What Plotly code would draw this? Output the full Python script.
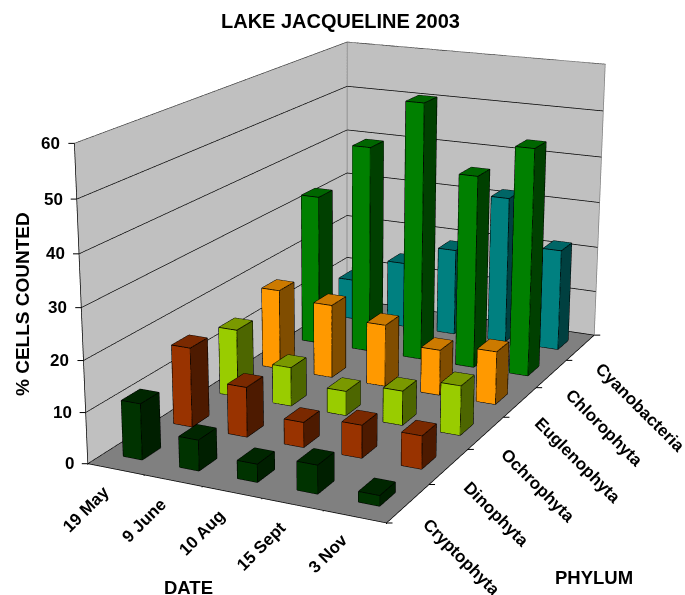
import plotly.graph_objects as go

# Percentage of cells counted, by phylum and sampling date
dates = ["19 May", "9 June", "10 Aug", "15 Sept", "3 Nov"]
phyla = ["Cryptophyta", "Dinophyta", "Ochrophyta", "Euglenophyta", "Chlorophyta", "Cyanobacteria"]
cryptophyta = [11, 6, 3.5, 5.5, 2]
dinophyta = [16, 10, 5, 6.5, 6.5]
ochrophyta = [14, 8, 5, 7, 10]
euglenophyta = [17, 15.5, 13, 9.5, 11]
chlorophyta = [32.5, 44.5, 55, 41, 48]
cyanobacteria = [9, 14.5, 19, 32, 22]
percent_ticks = [0, 10, 20, 30, 40, 50, 60]

series = [cryptophyta, dinophyta, ochrophyta, euglenophyta, chlorophyta, cyanobacteria]
# front, side and top shades of each phylum's columns
shades = [
    ("#003300", "#001f00", "#002600"),
    ("#993300", "#4d1a00", "#7a2900"),
    ("#99cc00", "#4d6600", "#7a9900"),
    ("#ff9900", "#804d00", "#cc7a00"),
    ("#008000", "#004000", "#006600"),
    ("#008080", "#004040", "#006666"),
]

FONT = "Liberation Sans"
BAR_X, BAR_Y = 0.34, 0.36
W, H, TOP = 685, 1600, 523

fig = go.Figure()


def column(x0, y0, height):
    x1, y1 = x0 + BAR_X, y0 + BAR_Y
    return [(x0, y0, 0), (x1, y0, 0), (x1, y1, 0), (x0, y1, 0),
            (x0, y0, height), (x1, y0, height), (x1, y1, height), (x0, y1, height)]


FACES = [((0, 1, 5), 0), ((0, 5, 4), 0), ((1, 2, 6), 1), ((1, 6, 5), 1), ((4, 5, 6), 2), ((4, 6, 7), 2)]
EDGES = [(0, 1), (1, 2), (2, 3), (3, 0), (4, 5), (5, 6), (6, 7), (7, 4), (0, 4), (1, 5), (2, 6), (3, 7)]

for j, (name, values) in enumerate(zip(phyla, series)):
    vx, vy, vz, fi, fj, fk, fc = [], [], [], [], [], [], []
    ex, ey, ez = [], [], []
    for i, v in enumerate(values):
        pts = column(i + (1 - BAR_X) / 2, j + (1 - BAR_Y) / 2, v)
        base = len(vx)
        for p in pts:
            vx.append(p[0]); vy.append(p[1]); vz.append(p[2])
        for tri, shade in FACES:
            fi.append(base + tri[0]); fj.append(base + tri[1]); fk.append(base + tri[2])
            fc.append(shades[j][shade])
        for a, b in EDGES:
            ex += [pts[a][0], pts[b][0], None]
            ey += [pts[a][1], pts[b][1], None]
            ez += [pts[a][2], pts[b][2], None]
    fig.add_trace(go.Mesh3d(x=vx, y=vy, z=vz, i=fi, j=fj, k=fk, facecolor=fc, flatshading=True,
                            name=name, hoverinfo="skip",
                            lighting=dict(ambient=1, diffuse=0, specular=0, fresnel=0, roughness=1)))
    fig.add_trace(go.Scatter3d(x=ex, y=ey, z=ez, mode="lines", line=dict(color="black", width=1.6),
                               hoverinfo="skip", showlegend=False))

nx, ny, zmax = len(dates), len(phyla), percent_ticks[-1]

# wall outline in grey, front floor edges and the value axis in black
fig.add_trace(go.Scatter3d(x=[0, 0, nx, nx, None, 0, 0], y=[0, ny, ny, ny, None, ny, ny],
                           z=[zmax, zmax, zmax, 0, None, 0, zmax], mode="lines",
                           line=dict(color="#808080", width=1.5), hoverinfo="skip", showlegend=False))
fig.add_trace(go.Scatter3d(x=[0, 0, nx, nx], y=[0, 0, 0, ny], z=[zmax, 0, 0, 0], mode="lines",
                           line=dict(color="black", width=1.5), hoverinfo="skip", showlegend=False))

notes = []
tick_style = dict(showarrow=True, arrowhead=0, arrowwidth=1, arrowcolor="black", standoff=0)
label_font = dict(family=FONT, size=17, color="black")
phylum_font = dict(family=FONT, size=17, color="black")

for v in percent_ticks:
    notes.append(dict(x=0, y=0, z=v, ax=-9, ay=0, **tick_style))
    notes.append(dict(x=0, y=0, z=v, text=f"<b>{v}</b>", showarrow=False, xanchor="right", yanchor="middle",
                      xshift=-12, font=label_font))
for i, d in enumerate(dates):
    notes.append(dict(x=i, y=0, z=0, ax=0, ay=11, **tick_style))
    notes.append(dict(x=i + 0.5, y=0, z=0, text=f"<b>{d}</b>", showarrow=False, textangle=-45,
                      xanchor="right", yanchor="top", xshift=0, yshift=-11, font=label_font))
notes.append(dict(x=nx, y=0, z=0, ax=0, ay=11, **tick_style))
for j, p in enumerate(phyla):
    notes.append(dict(x=nx, y=j, z=0, ax=9, ay=0, **tick_style))
    notes.append(dict(x=nx, y=j + 0.5, z=0, text=f"<b>{p}</b>", showarrow=False, textangle=45,
                      xanchor="left", yanchor="top", xshift=8, yshift=-9, font=phylum_font))
notes.append(dict(x=nx, y=ny, z=0, ax=9, ay=0, **tick_style))

axis_off = dict(showgrid=False, zeroline=False, showticklabels=False, ticks="", title="", showspikes=False,
                showline=False, showbackground=True, backgroundcolor="#c0c0c0")


def page_note(text, px, py, size, angle=0):
    return dict(text=f"<b>{text}</b>", x=px / W, y=1 - (py + TOP) / H, xref="paper", yref="paper",
                xanchor="center", yanchor="middle", showarrow=False, textangle=angle,
                font=dict(family=FONT, size=size, color="black"))


fig.update_layout(
    width=W, height=H, margin=dict(l=0, r=0, t=0, b=0), paper_bgcolor="white", showlegend=False,
    annotations=[
        page_note("LAKE JACQUELINE 2003", 340, 21, 20),
        page_note("% CELLS COUNTED", 22, 304, 19, -90),
        page_note("DATE", 188, 587, 18.5),
        page_note("PHYLUM", 594, 577, 18.5),
    ],
    scene=dict(
        domain=dict(x=[0, 1], y=[0, 1]),
        xaxis=dict(range=[0, nx], **axis_off),
        yaxis=dict(range=[0, ny], **axis_off),
        zaxis=dict(range=[0, zmax], showgrid=True, gridcolor="black", gridwidth=1.5, tickvals=percent_ticks,
                   zeroline=False, showticklabels=False, ticks="", title="", showspikes=False, showline=False,
                   showbackground=True, backgroundcolor="#808080"),
        aspectmode="manual", aspectratio=dict(x=0.985, y=1.80, z=0.985),
        camera=dict(eye=dict(x=2.53, y=-5.41, z=1.75), center=dict(x=-0.053, y=-0.051, z=-0.083),
                    up=dict(x=-0.0054, y=-0.0026, z=1)),
        annotations=notes,
    ),
)

# The tall canvas sets the lens; the page shows the part of it holding the chart.
place = ("var g=document.querySelector('.plotly-graph-div');"
         f"g.style.position='absolute';g.style.left='0';g.style.top='-{TOP}px';"
         "document.body.style.overflow='hidden';document.documentElement.style.overflow='hidden';")
fig.write_html("out.html", post_script=place, config=dict(displayModeBar=False))
